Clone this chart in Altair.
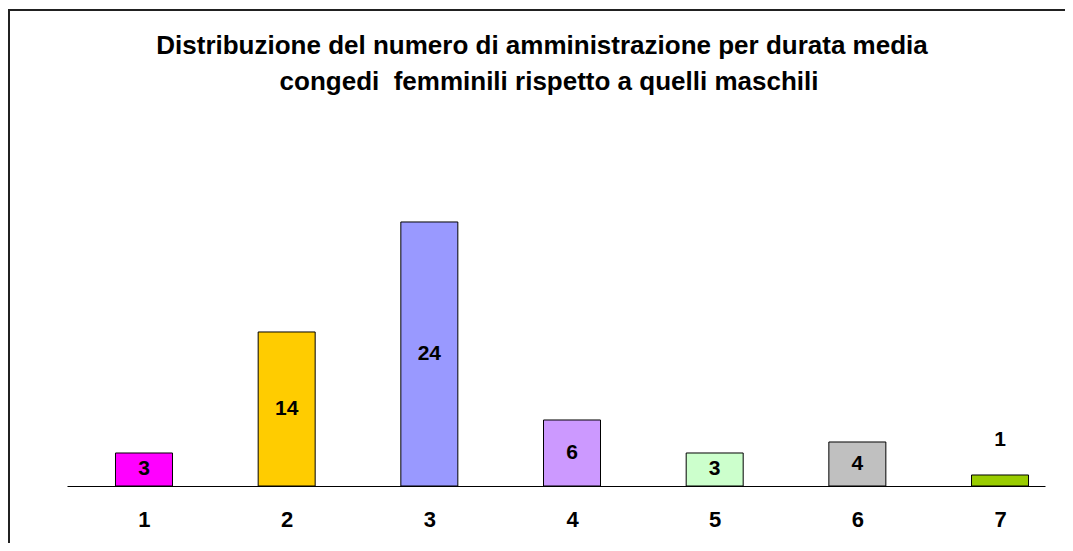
import altair as alt
import pandas as pd

categories = [1, 2, 3, 4, 5, 6, 7]
values = [3, 14, 24, 6, 3, 4, 1]
colors = ["#FF00FF", "#FFCC00", "#9999FF", "#CC99FF", "#CCFFCC", "#C0C0C0", "#99CC00"]
title_lines = [
    "Distribuzione del numero di amministrazione per durata media",
    "congedi\u00a0 femminili rispetto a quelli maschili",
]

df = pd.DataFrame({"cat": categories, "v": values, "col": colors})

FONT = "Liberation Sans"
W, H = 978, 356

xs = alt.Scale(domain=[0.4603, 7.3153], nice=False, zero=False, padding=0)
ys = alt.Scale(domain=[0, 32.36], nice=False)

base = alt.Chart(df)

bars = base.mark_bar(size=57, stroke="black", strokeWidth=1).encode(
    x=alt.X("cat:Q", scale=xs,
            axis=alt.Axis(values=categories, format="d", title=None, ticks=False, grid=False,
                          domain=True, domainColor="black", domainWidth=1,
                          labelFont=FONT, labelFontSize=22, labelFontWeight="bold",
                          labelColor="black", labelPadding=23)),
    y=alt.Y("v:Q", scale=ys, axis=None),
    y2=alt.datum(0),
    color=alt.Color("col:N", scale=None),
)

labels_in = base.transform_filter("datum.v >= 2").transform_calculate(
    mid="datum.v / 2"
).mark_text(font=FONT, fontSize=21, fontWeight="bold", color="black", baseline="middle").encode(
    x=alt.X("cat:Q", scale=xs),
    y=alt.Y("mid:Q", scale=ys),
    text=alt.Text("v:Q"),
)

labels_out = base.transform_filter("datum.v < 2").mark_text(
    font=FONT, fontSize=21, fontWeight="bold", color="black", baseline="middle", dy=-35
).encode(
    x=alt.X("cat:Q", scale=xs),
    y=alt.Y("v:Q", scale=ys),
    text=alt.Text("v:Q"),
)

title1 = alt.Chart(pd.DataFrame({"t": [title_lines[0]]})).mark_text(
    font=FONT, fontSize=26, fontWeight="bold", color="black", align="center", baseline="alphabetic"
).encode(x=alt.value(475), y=alt.value(-76), text="t:N")
title2 = alt.Chart(pd.DataFrame({"t": [title_lines[1]]})).mark_text(
    font=FONT, fontSize=26, fontWeight="bold", color="black", align="center", baseline="alphabetic"
).encode(x=alt.value(482), y=alt.value(-40), text="t:N")

frame_top = alt.Chart(df).mark_rule(color="#222222", strokeWidth=1.5).encode(
    x=alt.value(-59), x2=alt.value(1010), y=alt.value(-120)
)
frame_left = alt.Chart(df).mark_rule(color="#222222", strokeWidth=1.5).encode(
    x=alt.value(-58.2), y=alt.value(-120), y2=alt.value(430)
)

chart = alt.layer(bars, labels_in, labels_out, title1, title2, frame_top, frame_left).properties(
    width=W,
    height=H,
    background="white",
    autosize=alt.AutoSizeParams(type="none"),
    padding={"left": 59, "top": 122, "right": 20, "bottom": 57},
).configure_view(stroke="transparent", strokeWidth=0)

chart.save("out.html", embed_options={"renderer": "svg", "actions": False})
